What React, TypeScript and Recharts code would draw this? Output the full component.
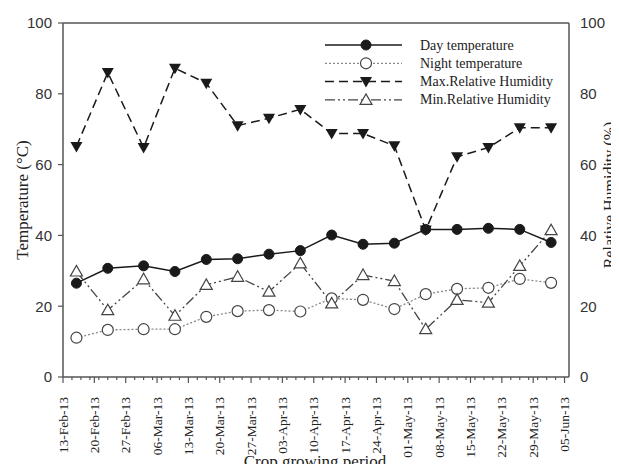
import { Legend, Line, LineChart, ReferenceLine, XAxis, YAxis } from 'recharts'

// weekly observations
const sampleDates = [
  '16-Feb-13', '23-Feb-13', '03-Mar-13', '10-Mar-13', '17-Mar-13', '24-Mar-13', '31-Mar-13', '07-Apr-13',
  '14-Apr-13', '21-Apr-13', '28-Apr-13', '05-May-13', '12-May-13', '19-May-13', '26-May-13', '02-Jun-13',
]
const dayTemp = [26.5, 30.7, 31.4, 29.8, 33.2, 33.4, 34.7, 35.7, 40.1, 37.5, 37.8, 41.7, 41.7, 42.0, 41.7, 38.0]
const nightTemp = [11.1, 13.3, 13.5, 13.5, 17.0, 18.6, 18.9, 18.5, 22.2, 21.8, 19.2, 23.4, 24.9, 25.2, 27.7, 26.6]
const maxRH = [65.1, 86.0, 64.8, 87.2, 83.0, 71.0, 73.1, 75.6, 68.8, 68.8, 65.3, 41.5, 62.2, 64.8, 70.4, 70.4]
const minRH = [29.8, 18.9, 27.6, 17.3, 26.0, 28.3, 24.1, 32.1, 20.8, 28.8, 27.1, 13.5, 21.8, 21.0, 31.4, 41.5]

const tickLabels = [
  '13-Feb-13', '20-Feb-13', '27-Feb-13', '06-Mar-13', '13-Mar-13', '20-Mar-13', '27-Mar-13', '03-Apr-13', '10-Apr-13',
  '17-Apr-13', '24-Apr-13', '01-May-13', '08-May-13', '15-May-13', '22-May-13', '29-May-13', '05-Jun-13',
]
const yTicks = [0, 20, 40, 60, 80, 100]

const MONTHS = ['Jan', 'Feb', 'Mar', 'Apr', 'May', 'Jun', 'Jul', 'Aug', 'Sep', 'Oct', 'Nov', 'Dec']
const START = Date.UTC(2013, 1, 13)

function dayOf(label: string) {
  const [d, m, y] = label.split('-')
  return Math.round((Date.UTC(2000 + Number(y), MONTHS.indexOf(m), Number(d)) - START) / 86400000)
}

const data = sampleDates.map((date, i) => ({
  day: dayOf(date),
  dayT: dayTemp[i],
  nightT: nightTemp[i],
  maxRH: maxRH[i],
  minRH: minRH[i],
}))

const majorDays = tickLabels.map(dayOf)
const minorDays = Array.from({ length: 57 }, (_, i) => i * 2).filter((d) => !majorDays.includes(d))
const xTicks = [...majorDays, ...minorDays].sort((a, b) => a - b)

const INK = '#1a1a1a'
const AXIS = '#555'
const serif = '"Liberation Serif", "Times New Roman", serif'
const sans = '"Liberation Sans", Arial, sans-serif'

type MarkerKind = 'filledCircle' | 'openCircle' | 'downTri' | 'upTri'

function Marker({ kind, cx, cy }: { kind: MarkerKind; cx: number; cy: number }) {
  if (kind === 'filledCircle') return <circle cx={cx} cy={cy} r={5} fill={INK} stroke={INK} />
  if (kind === 'openCircle') return <circle cx={cx} cy={cy} r={5.5} fill="#fff" stroke="#444" strokeWidth={1.2} />
  const s = 6
  if (kind === 'downTri')
    return <path d={`M${cx - s},${cy - s * 0.75}L${cx + s},${cy - s * 0.75}L${cx},${cy + s}Z`} fill={INK} />
  return (
    <path
      d={`M${cx - s},${cy + s * 0.75}L${cx + s},${cy + s * 0.75}L${cx},${cy - s}Z`}
      fill="#fff"
      stroke="#444"
      strokeWidth={1.2}
    />
  )
}

const dotOf = (kind: MarkerKind) => (p: any) =>
  <g key={`${kind}-${p.index}`}><Marker kind={kind} cx={p.cx} cy={p.cy} /></g>

const series = [
  { key: 'nightT', name: 'Night temperature', axis: 't', stroke: '#888', width: 1.3, dash: '2 2', marker: 'openCircle' as MarkerKind },
  { key: 'minRH', name: 'Min.Relative Humidity', axis: 'rh', stroke: '#444', width: 1.3, dash: '10 3 2 3 2 3', marker: 'upTri' as MarkerKind },
  { key: 'maxRH', name: 'Max.Relative Humidity', axis: 'rh', stroke: INK, width: 1.5, dash: '9 5', marker: 'downTri' as MarkerKind },
  { key: 'dayT', name: 'Day temperature', axis: 't', stroke: INK, width: 1.5, dash: undefined, marker: 'filledCircle' as MarkerKind },
]
const legendOrder = ['dayT', 'nightT', 'maxRH', 'minRH']

function DateTick(props: any) {
  const { x, y, payload } = props
  const idx = majorDays.indexOf(payload.value)
  const major = idx >= 0
  return (
    <g>
      <line x1={x} y1={y} x2={x} y2={y + (major ? 6 : 3)} stroke={AXIS} strokeWidth={1.2} />
      {major && (
        <text
          x={x}
          y={y + 20}
          transform={`rotate(-90, ${x}, ${y + 20})`}
          textAnchor="end"
          dominantBaseline="central"
          fontFamily={serif}
          fontSize={13.5}
          fill="#222"
        >
          {tickLabels[idx]}
        </text>
      )}
    </g>
  )
}

function ChartLegend() {
  const rows = legendOrder.map((k) => series.find((s) => s.key === k)!)
  return (
    <svg width={260} height={80}>
      {rows.map((s, i) => {
        const y = 10 + i * 18.3
        return (
          <g key={s.key}>
            <line x1={5} x2={82} y1={y} y2={y} stroke={s.stroke} strokeWidth={s.width} strokeDasharray={s.dash} />
            <Marker kind={s.marker} cx={46} cy={y} />
            <text x={100} y={y} dominantBaseline="central" fontFamily={serif} fontSize={14} fill="#222">
              {s.name}
            </text>
          </g>
        )
      })}
    </svg>
  )
}

// axis titles drawn inside the chart svg so they share its coordinates
function AxisTitles() {
  return (
    <g fontFamily={serif} fontSize={17} fill="#222">
      <text x={22} y={200} transform="rotate(-90, 22, 200)" textAnchor="middle" dominantBaseline="central">
        Temperature (°C)
      </text>
      <text x={609} y={195} transform="rotate(-90, 609, 195)" textAnchor="middle" dominantBaseline="central" fontSize={16}>
        Relative Humidity (%)
      </text>
      <text x={315} y={467} textAnchor="middle">
        Crop growing period
      </text>
    </g>
  )
}

export default function App() {
  return (
    <LineChart width={619} height={472} data={data} margin={{ top: 23, right: 0, bottom: 0, left: 0 }} style={{ margin: -8 }}>
      <XAxis
        dataKey="day"
        type="number"
        domain={[0, 113]}
        ticks={xTicks}
        interval={0}
        height={95}
        tickLine={false}
        tickSize={0}
        tickMargin={0}
        tick={<DateTick />}
        axisLine={{ stroke: AXIS, strokeWidth: 1.5 }}
      />
      <YAxis
        yAxisId="t"
        domain={[0, 100]}
        ticks={yTicks}
        width={63}
        tickSize={5}
        tickMargin={6}
        tick={{ fontFamily: sans, fontSize: 15, fill: '#333' }}
        tickLine={{ stroke: AXIS, strokeWidth: 1.2 }}
        axisLine={{ stroke: AXIS, strokeWidth: 1.5 }}
      />
      <YAxis
        yAxisId="rh"
        orientation="right"
        domain={[0, 100]}
        ticks={yTicks}
        width={50}
        tickSize={0}
        tickMargin={11}
        tickLine={false}
        tick={{ fontFamily: sans, fontSize: 15, fill: '#333' }}
        axisLine={{ stroke: AXIS, strokeWidth: 1.5 }}
      />
      <ReferenceLine yAxisId="t" y={100} stroke={AXIS} strokeWidth={1.5} />
      {series.map((s) => (
        <Line
          key={s.key}
          yAxisId={s.axis}
          dataKey={s.key}
          name={s.name}
          type="linear"
          stroke={s.stroke}
          strokeWidth={s.width}
          strokeDasharray={s.dash}
          dot={dotOf(s.marker)}
          activeDot={false}
          isAnimationActive={false}
        />
      ))}
      <Legend
        layout="vertical"
        align="center"
        verticalAlign="middle"
        content={<ChartLegend />}
        wrapperStyle={{ left: 320, top: 35, width: 260, height: 80 }}
      />
      <AxisTitles />
    </LineChart>
  )
}
